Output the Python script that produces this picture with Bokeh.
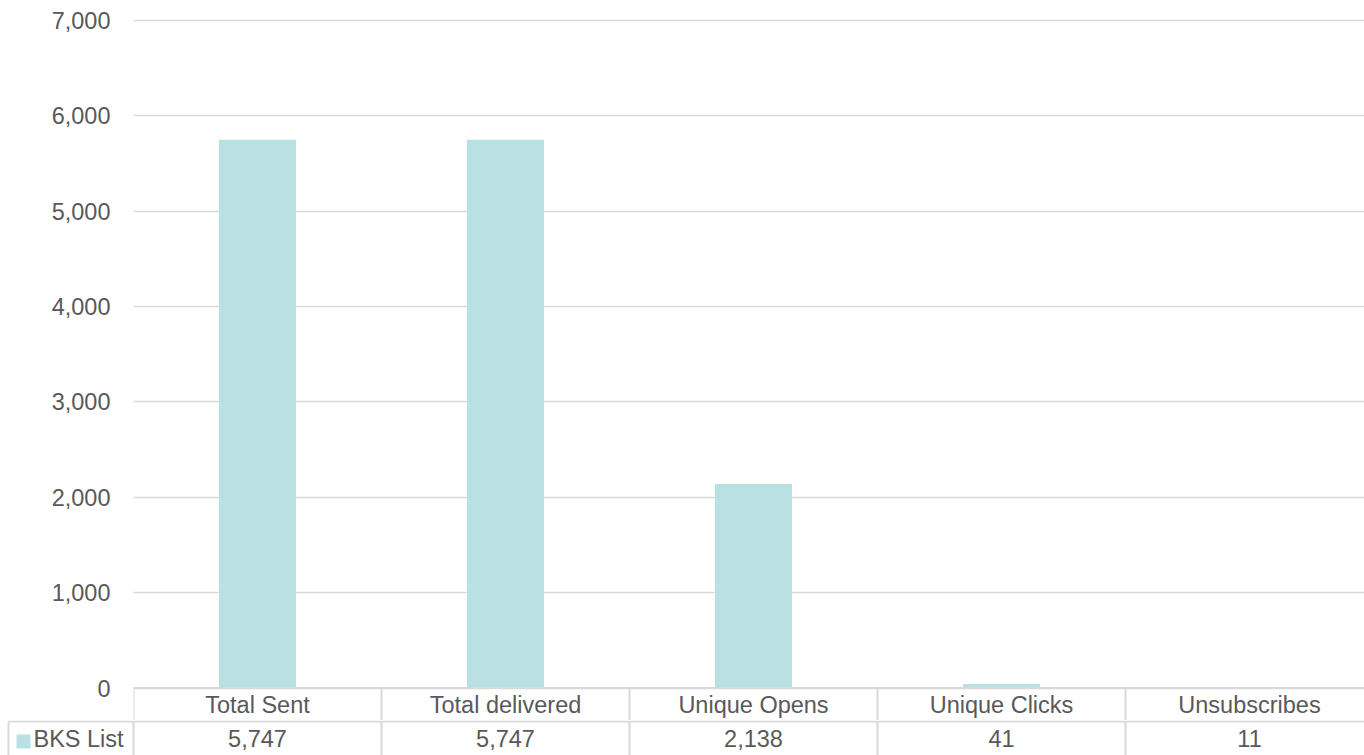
from bokeh.plotting import figure
from bokeh.layouts import column
from bokeh.models import Range1d, FixedTicker, NumeralTickFormatter
from bokeh.core.properties import value
from bokeh.embed import file_html
from bokeh.resources import INLINE

# ---- data ----
categories = ["Total Sent", "Total delivered", "Unique Opens", "Unique Clicks", "Unsubscribes"]
series_name = "BKS List"
values = [5747, 5747, 2138, 41, 11]
y_ticks = [0, 1000, 2000, 3000, 4000, 5000, 6000, 7000]

# ---- style / layout ----
FONT = value("Liberation Sans")
FS = "23.5px"
TXT = "#595959"
GRID = "#d9d9d9"
BAR = "#b9e0e3"

W = 1364          # total width
LEFT = 133        # left area (axis labels / series label)
SLOT = 248        # px per category
TOP_H = 720
BOT_H = 35
Y_TOP_PX = 19.75  # px from top where max tick sits
Y_ZERO_PX = 687.5 # px from top where zero sits
ymax = max(y_ticks)
upp = ymax / (Y_ZERO_PX - Y_TOP_PX)   # data units per px

n = len(categories)
xs = list(range(n))
frame_w = W - LEFT
x_end = -0.5 + frame_w / SLOT

p = figure(width=W, height=TOP_H, output_backend="svg", toolbar_location=None,
           x_axis_location=None, min_border=0, min_border_left=LEFT,
           x_range=Range1d(-0.5, x_end),
           y_range=Range1d(-(TOP_H - Y_ZERO_PX) * upp, ymax + Y_TOP_PX * upp))
p.frame_align = False
p.outline_line_color = None
p.background_fill_color = "white"
p.border_fill_color = "white"
p.xgrid.visible = False
p.ygrid.ticker = FixedTicker(ticks=y_ticks)
p.ygrid.grid_line_color = GRID
p.ygrid.grid_line_width = 1.5
ax = p.yaxis[0]
ax.ticker = FixedTicker(ticks=y_ticks)
ax.formatter = NumeralTickFormatter(format="0,0")
ax.axis_line_color = None
ax.major_tick_line_color = None
ax.minor_tick_line_color = None
ax.major_tick_out = 0
ax.major_tick_in = 0
ax.major_label_standoff = 23
ax.major_label_text_font = "Liberation Sans"
ax.major_label_text_font_size = FS
ax.major_label_text_color = TXT

# bars
p.vbar(x=xs, top=values, bottom=0, width=77 / SLOT, fill_color=BAR, line_color=None)

# header row of data table
hdr_bottom = -(TOP_H - Y_ZERO_PX) * upp
seps = [i - 0.5 for i in range(n + 1)]
p.segment(x0=seps, x1=seps, y0=[0] * len(seps), y1=[hdr_bottom] * len(seps),
          line_color=GRID, line_width=2)
p.segment(x0=[-0.5], x1=[x_end], y0=[0], y1=[0], line_color=GRID, line_width=2)
hdr_y = -(704 - Y_ZERO_PX) * upp
p.text(x=xs, y=[hdr_y] * n, text=categories, text_font=FONT, text_font_size=FS,
       text_color=TXT, text_align="center", text_baseline="middle")

# value row of data table
x_start = -0.5 - LEFT / SLOT
q = figure(width=W, height=BOT_H, output_backend="svg", toolbar_location=None,
           x_axis_location=None, y_axis_location=None, min_border=0,
           x_range=Range1d(x_start, x_end), y_range=Range1d(0, BOT_H))
q.frame_align = False
q.outline_line_color = None
q.background_fill_color = "white"
q.border_fill_color = "white"
q.grid.visible = False
q.segment(x0=[x_start + 8 / SLOT], x1=[x_end], y0=[BOT_H - 1], y1=[BOT_H - 1],
          line_color=GRID, line_width=2)
vx = [x_start + 8 / SLOT] + seps
q.segment(x0=vx, x1=vx, y0=[0] * len(vx), y1=[BOT_H - 1] * len(vx), line_color=GRID, line_width=2)
row_y = BOT_H - (738 - TOP_H)
q.text(x=xs, y=[row_y] * n, text=[f"{v:,}" for v in values], text_font=FONT, text_font_size=FS,
       text_color=TXT, text_align="center", text_baseline="middle")
q.scatter(x=[x_start + 23 / SLOT], y=[BOT_H - (741 - TOP_H)], marker="square", size=14,
          fill_color=BAR, line_color=None)
q.text(x=[x_start + 33 / SLOT], y=[row_y], text=[series_name], text_font=FONT, text_font_size=FS,
       text_color=TXT, text_align="left", text_baseline="middle")

layout = column(p, q, spacing=0)
open("out.html", "w").write(file_html(layout, INLINE))
